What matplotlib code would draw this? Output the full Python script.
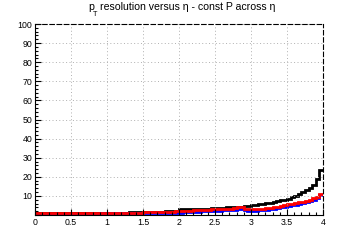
import numpy as np
import matplotlib
matplotlib.use("Agg")
import matplotlib.pyplot as plt

plt.rcParams['font.family'] = ['Liberation Sans', 'DejaVu Sans']

# bins de eta, ancho 0.05 entre 0 y 4
bordes = np.linspace(0, 4, 81)

negro = ([1.0]*26 + [1.7]*10 + [2.3]*4 +
         [2.9, 2.9, 3.0, 3.0, 3.1, 3.1, 3.2, 3.3, 3.4, 3.5,
          3.7, 3.8, 3.9, 4.0, 4.1, 4.2, 4.3, 4.4, 4.6, 4.8,
          5.2, 5.4, 5.6, 5.9, 6.2, 6.5, 6.9, 7.3, 7.7, 8.1,
          8.5, 9.3, 10.2, 11.0, 12.0, 13.0, 14.3, 15.8, 19.0, 23.5])
rojo = ([1.2]*30 + [1.4]*6 +
        [1.7, 1.7, 1.8, 1.9, 2.0, 2.1, 2.2, 2.3,
         2.4, 2.5, 2.6, 2.7, 2.8, 2.9, 3.0, 3.0,
         3.1, 3.2, 3.3, 3.5, 4.0, 4.0,
         3.4, 3.0, 3.0, 3.0, 3.1, 3.2,
         3.5, 3.8, 4.1, 4.4, 4.7, 5.1,
         5.6, 5.9, 6.2, 6.6, 7.0, 7.5, 8.1, 8.7, 9.6, 11.0])
azul = ([0.5]*18 + [1.0]*18 +
        [1.0, 1.0, 1.1, 1.2, 1.3, 1.4, 1.5, 1.6,
         1.7, 1.8, 1.9, 2.0, 2.1, 2.2, 2.3, 2.3,
         2.4, 2.5, 2.6, 2.8, 3.3, 3.3,
         2.7, 2.3, 2.3, 2.3, 2.4, 2.5,
         2.8, 3.1, 3.4, 3.7, 4.0, 4.4,
         4.9, 5.2, 5.5, 5.9, 6.3, 6.8, 7.4, 8.0, 8.9, 10.3])

x_ticks = [0, 0.5, 1, 1.5, 2, 2.5, 3, 3.5, 4]
x_labels = ["0", "0.5", "1", "1.5", "2", "2.5", "3", "3.5", "4"]
y_ticks = [0, 10, 20, 30, 40, 50, 60, 70, 80, 90, 100]
y_labels = [""] + [str(v) for v in y_ticks[1:]]

fig = plt.figure(figsize=(3.6, 2.4), dpi=100)
ax = fig.add_axes([0.097, 0.104, 0.8, 0.796])

ax.stairs(negro, bordes, color="black", lw=2, baseline=None)
ax.stairs(azul, bordes, color="blue", lw=2, baseline=None)
ax.stairs(rojo, bordes, color="red", lw=2, baseline=None)

ax.set_xlim(0, 4)
ax.set_ylim(0, 100)
ax.set_xticks(x_ticks)
ax.set_xticklabels(x_labels)
ax.set_yticks(y_ticks)
ax.set_yticklabels(y_labels)
ax.set_xticks(np.arange(0, 4.01, 0.1), minor=True)
ax.set_yticks(np.arange(0, 100.1, 2), minor=True)
ax.tick_params(which="both", direction="in", labelsize=6.3, pad=2, width=0.8)
ax.tick_params(which="major", length=4)
ax.tick_params(which="minor", length=2)
ax.grid(True, which="major", color="#b0b0b0", linestyle=(0, (1, 2.5)), lw=0.7)

for lado in ["top", "right"]:
    ax.spines[lado].set_linestyle((0, (4, 2.5)))
    ax.spines[lado].set_linewidth(0.8)

# titulo estilo ROOT: p con subindice T bajado
fig.text(0.244, 0.960, "p", ha="left", va="baseline", fontsize=7.6)
fig.text(0.257, 0.934, "T", ha="left", va="baseline", fontsize=5.2)
fig.text(0.278, 0.960, "resolution versus η - const P across η",
         ha="left", va="baseline", fontsize=7.6)

fig.savefig("out.png", dpi=100)
